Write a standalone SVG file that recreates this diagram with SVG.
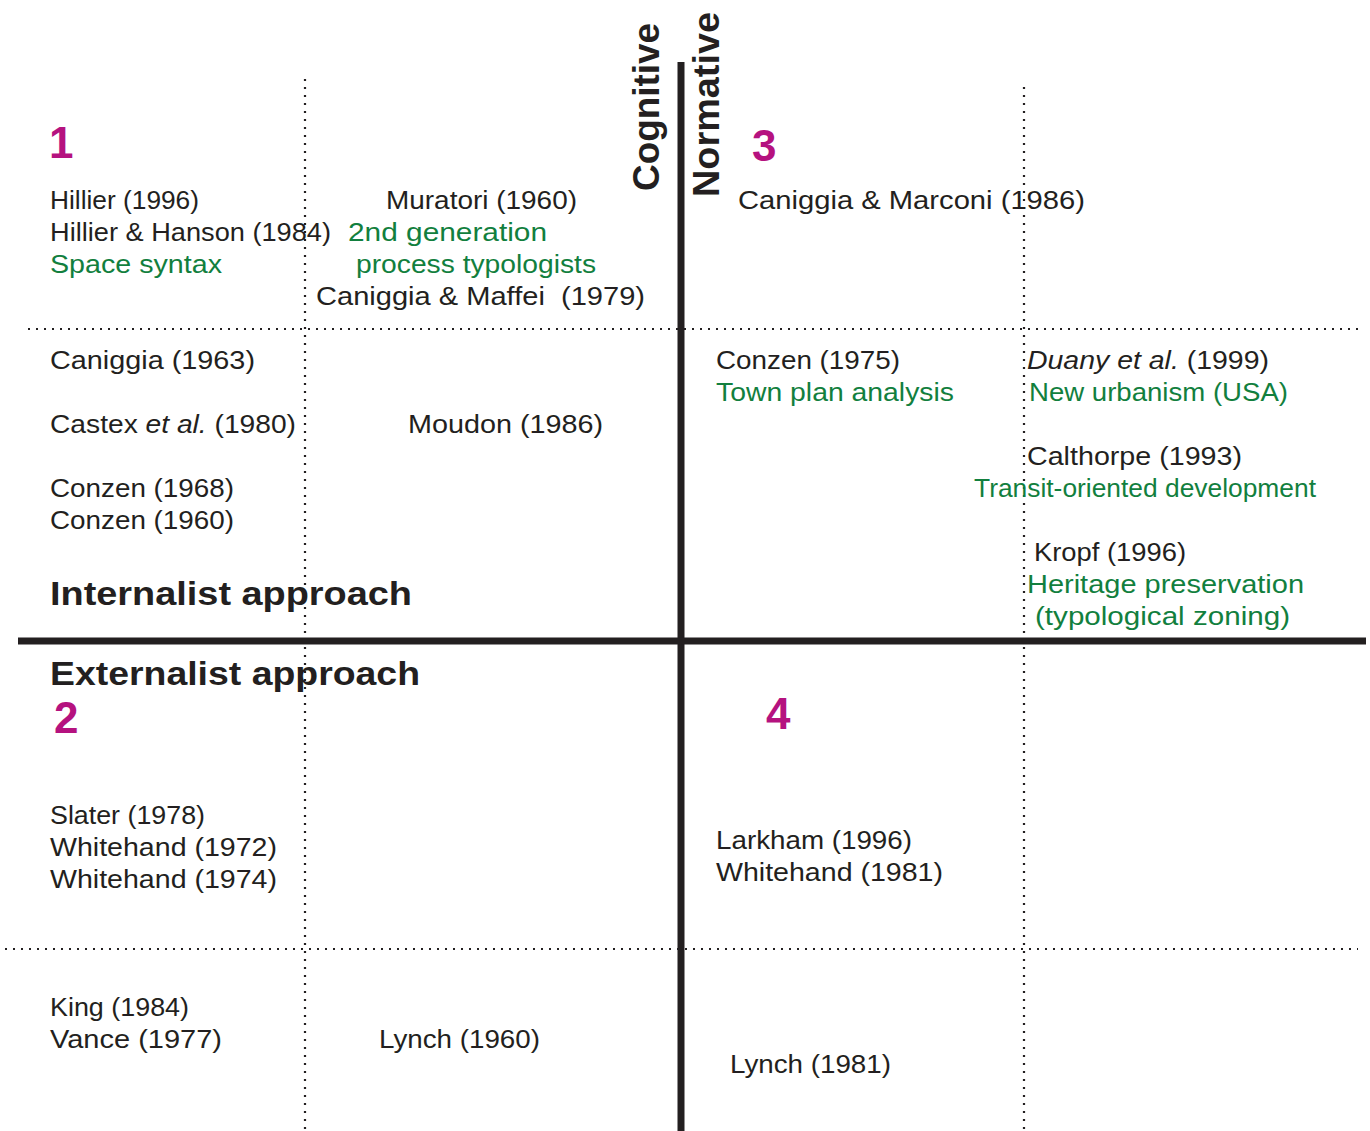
<svg xmlns="http://www.w3.org/2000/svg" width="1370" height="1131" viewBox="0 0 1370 1131">
<style>
text{font-family:"Liberation Sans","DejaVu Sans",Arial,sans-serif;}
.t{font-size:25px;fill:#231f20;}
.g{font-size:25px;fill:#127f3e;}
.n{font-size:44px;font-weight:bold;fill:#b5127f;}
.h{font-size:34px;font-weight:bold;fill:#231f20;}
.ax{font-size:36px;font-weight:bold;fill:#231f20;}
.dot{stroke:#231f20;stroke-width:2.2;stroke-dasharray:2 6;fill:none;}
.thick{stroke:#231f20;stroke-width:7;fill:none;}
</style>
<rect width="1370" height="1131" fill="#fff"/>
<g id="grid">
<line class="dot" x1="305" y1="79" x2="305" y2="1131"/>
<line class="dot" x1="1024" y1="87" x2="1024" y2="1131"/>
<line class="dot" x1="28" y1="329" x2="1358" y2="329"/>
<line class="dot" x1="5" y1="949" x2="1358" y2="949"/>
<line class="thick" x1="681" y1="62" x2="681" y2="1131"/>
<line class="thick" x1="18" y1="641" x2="1366" y2="641"/>
</g>
<g id="axes">
<text class="ax" transform="translate(659,191) rotate(-90)" textLength="168" lengthAdjust="spacingAndGlyphs">Cognitive</text>
<text class="ax" transform="translate(719,197) rotate(-90)" textLength="185" lengthAdjust="spacingAndGlyphs">Normative</text>
</g>
<g id="numbers">
<text class="n" x="49" y="158">1</text>
<text class="n" x="54" y="733">2</text>
<text class="n" x="752" y="161">3</text>
<text class="n" x="766" y="729">4</text>
</g>
<g id="headings">
<text class="h" x="50" y="605" textLength="362" lengthAdjust="spacingAndGlyphs">Internalist approach</text>
<text class="h" x="50" y="685" textLength="370" lengthAdjust="spacingAndGlyphs">Externalist approach</text>
</g>
<g id="q1">
<text class="t" x="50" y="209" textLength="149" lengthAdjust="spacingAndGlyphs">Hillier (1996)</text>
<text class="t" x="50" y="241" textLength="281" lengthAdjust="spacingAndGlyphs">Hillier &amp; Hanson (1984)</text>
<text class="g" x="50" y="273" textLength="172" lengthAdjust="spacingAndGlyphs">Space syntax</text>
<text class="t" x="386" y="209" textLength="191" lengthAdjust="spacingAndGlyphs">Muratori (1960)</text>
<text class="g" x="348" y="241" textLength="199" lengthAdjust="spacingAndGlyphs">2nd generation</text>
<text class="g" x="356" y="273" textLength="240" lengthAdjust="spacingAndGlyphs">process typologists</text>
<text class="t" x="316" y="305" textLength="329" lengthAdjust="spacingAndGlyphs" style="white-space:pre">Caniggia &amp; Maffei  (1979)</text>
<text class="t" x="50" y="369" textLength="205" lengthAdjust="spacingAndGlyphs">Caniggia (1963)</text>
<text class="t" x="50" y="433" textLength="246" lengthAdjust="spacingAndGlyphs">Castex <tspan font-style="italic">et al.</tspan> (1980)</text>
<text class="t" x="50" y="497" textLength="184" lengthAdjust="spacingAndGlyphs">Conzen (1968)</text>
<text class="t" x="50" y="529" textLength="184" lengthAdjust="spacingAndGlyphs">Conzen (1960)</text>
<text class="t" x="408" y="433" textLength="195" lengthAdjust="spacingAndGlyphs">Moudon (1986)</text>
</g>
<g id="q3">
<text class="t" x="738" y="209" textLength="347" lengthAdjust="spacingAndGlyphs">Caniggia &amp; Marconi (1986)</text>
<text class="t" x="716" y="369" textLength="184" lengthAdjust="spacingAndGlyphs">Conzen (1975)</text>
<text class="g" x="716" y="401" textLength="238" lengthAdjust="spacingAndGlyphs">Town plan analysis</text>
<text class="t" x="1027" y="369" textLength="242" lengthAdjust="spacingAndGlyphs"><tspan font-style="italic">Duany et al.</tspan> (1999)</text>
<text class="g" x="1029" y="401" textLength="259" lengthAdjust="spacingAndGlyphs">New urbanism (USA)</text>
<text class="t" x="1027" y="465" textLength="215" lengthAdjust="spacingAndGlyphs">Calthorpe (1993)</text>
<text class="g" x="974" y="497" textLength="342" lengthAdjust="spacingAndGlyphs">Transit-oriented development</text>
<text class="t" x="1034" y="561" textLength="152" lengthAdjust="spacingAndGlyphs">Kropf (1996)</text>
<text class="g" x="1027" y="593" textLength="277" lengthAdjust="spacingAndGlyphs">Heritage preservation</text>
<text class="g" x="1035" y="625" textLength="255" lengthAdjust="spacingAndGlyphs">(typological zoning)</text>
</g>
<g id="q2">
<text class="t" x="50" y="824" textLength="155" lengthAdjust="spacingAndGlyphs">Slater (1978)</text>
<text class="t" x="50" y="856" textLength="227" lengthAdjust="spacingAndGlyphs">Whitehand (1972)</text>
<text class="t" x="50" y="888" textLength="227" lengthAdjust="spacingAndGlyphs">Whitehand (1974)</text>
<text class="t" x="50" y="1016" textLength="139" lengthAdjust="spacingAndGlyphs">King (1984)</text>
<text class="t" x="50" y="1048" textLength="172" lengthAdjust="spacingAndGlyphs">Vance (1977)</text>
<text class="t" x="379" y="1048" textLength="161" lengthAdjust="spacingAndGlyphs">Lynch (1960)</text>
</g>
<g id="q4">
<text class="t" x="716" y="849" textLength="196" lengthAdjust="spacingAndGlyphs">Larkham (1996)</text>
<text class="t" x="716" y="881" textLength="227" lengthAdjust="spacingAndGlyphs">Whitehand (1981)</text>
<text class="t" x="730" y="1073" textLength="161" lengthAdjust="spacingAndGlyphs">Lynch (1981)</text>
</g>
</svg>
